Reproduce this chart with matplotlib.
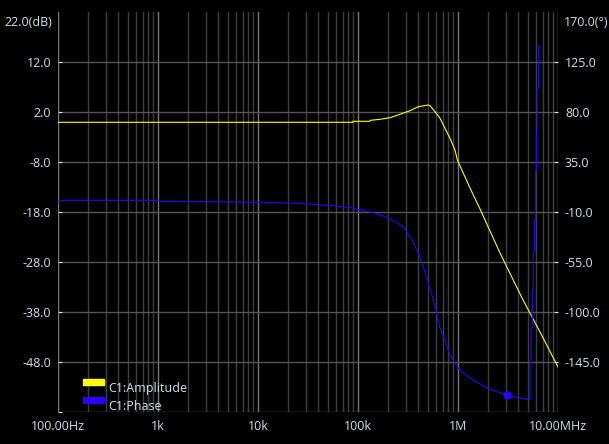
import matplotlib
matplotlib.use("Agg")
import matplotlib.pyplot as plt
from matplotlib.ticker import LogLocator, NullFormatter

# amplitude
amp_freq = [100, 88.5e3, 89e3, 131.8e3, 133e3, 166e3, 209e3, 263e3, 331e3, 401e3,
            505e3, 525e3, 589e3, 661e3, 741e3, 832e3, 933e3, 985e3, 1.318e6,
            1.66e6, 2.09e6, 2.63e6, 4.47e6, 6.61e6, 10e6]
amp_db = [-0.06, -0.06, 0.14, 0.14, 0.34, 0.54, 0.86, 1.54, 2.26, 3.06,
          3.4, 3.26, 2.06, 0.74, -1.26, -3.26, -5.6, -7.6, -13.2,
          -17.4, -21.8, -26.2, -35.6, -42.0, -49.0]

# phase
ph_freq = [100, 112, 1047, 1072, 11.3e3, 22.5e3, 35.7e3, 48.6e3, 61.2e3, 83.2e3,
           105e3, 142e3, 194e3, 244e3, 295e3, 318e3, 344e3, 401e3, 450e3, 505e3,
           566e3, 612e3, 661e3, 741e3, 832e3, 1.007e6, 1.318e6, 1.66e6, 2.09e6,
           3.11e6, 4.17e6, 5.25e6, 5.25e6, 5.37e6, 5.37e6, 5.53e6, 5.53e6,
           5.66e6, 5.66e6, 5.82e6, 5.82e6, 5.93e6, 5.93e6, 6.07e6, 6.07e6,
           6.17e6, 6.17e6, 6.41e6, 6.41e6]
ph_deg = [-0.4, 0.5, 0.5, -0.4, -1.3, -2.2, -3.1, -4.0, -4.6, -6.1,
          -8.2, -10.6, -14.8, -19.3, -24.7, -30.7, -34.6, -47.2, -59.2, -74.2,
          -89.2, -101.2, -114.7, -125.2, -138.7, -150.7, -159.7, -164.8, -169.6,
          -175.0, -177.4, -179.2, -145.9, -145.9, -114.4, -114.4, -80.2,
          -80.2, -45.7, -45.7, -17.2, -17.2, 26.3, 26.3, 62.3,
          62.3, 101.6, 101.6, 139.4]

cursor_freq = 3.11e6
cursor_deg = -175.0

x_ticks = [1e2, 1e3, 1e4, 1e5, 1e6, 1e7]
x_labels = ["100.00Hz", "1k", "10k", "100k", "1M", "10.00MHz"]
db_ticks = [12, 2, -8, -18, -28, -38, -48]
deg_ticks = [125, 80, 35, -10, -55, -100, -145]

txt = "#cfdff0"
plt.rcParams['font.family'] = ['Open Sans', 'DejaVu Sans']
plt.rcParams['font.size'] = 9

fig = plt.figure(figsize=(6.09, 4.44), dpi=100, facecolor="black")
ax = fig.add_axes([58 / 609, 32 / 444, 500 / 609, 400 / 444])
ax.set_facecolor("black")
ax2 = ax.twinx()

ax.set_xscale("log")
ax.set_xlim(100, 1e7)
ax.set_ylim(-58, 22)
ax2.set_ylim(-190, 170)

ax.set_xticks(x_ticks, x_labels)
ax.xaxis.set_minor_locator(LogLocator(base=10, subs=range(2, 10)))
ax.xaxis.set_minor_formatter(NullFormatter())
ax.set_yticks(db_ticks + [-58], [f"{v:.1f}" for v in db_ticks] + [""])
ax2.set_yticks(deg_ticks, [f"{v:.1f}" for v in deg_ticks])

ax.grid(True, which="major", axis="x", color="#777777", lw=1)
ax.grid(True, which="minor", axis="x", color="#3e3e3e", lw=1)
ax.grid(True, which="major", axis="y", color="#555555", lw=1)

for a in (ax, ax2):
    for s in a.spines.values():
        s.set_visible(False)
ax.tick_params(axis="x", which="both", length=0, colors=txt, pad=6)
ax.tick_params(axis="y", direction="in", length=3, color="#dddddd",
               labelcolor=txt, pad=5)
ax2.tick_params(axis="y", direction="in", length=3, color="#dddddd",
                labelcolor=txt, pad=5)

ax.text(-0.012, 0.975, "22.0(dB)", transform=ax.transAxes, ha="right",
        va="center", color=txt)
ax2.text(1.012, 0.975, "170.0(°)", transform=ax.transAxes, ha="left",
         va="center", color=txt)

ax.plot(amp_freq, amp_db, color="#ffff00", lw=0.8, zorder=3)
ax2.plot(ph_freq, ph_deg, color="#2a00ff", lw=0.8, zorder=3)
ax2.plot([cursor_freq], [cursor_deg], "o", color="#2a00ff", ms=5, zorder=4)

# legend
ax.add_patch(plt.Rectangle((0.05, 0.0675), 0.042, 0.015, transform=ax.transAxes,
                           color="#ffff00", zorder=5))
ax.add_patch(plt.Rectangle((0.05, 0.0225), 0.042, 0.015, transform=ax.transAxes,
                           color="#2a00ff", zorder=5))
ax.text(0.1, 0.06, "C1:Amplitude", transform=ax.transAxes, va="center",
        color=txt, zorder=5)
ax.text(0.1, 0.013, "C1:Phase", transform=ax.transAxes, va="center",
        color=txt, zorder=5)

fig.savefig("out.png", dpi=100, facecolor="black")
